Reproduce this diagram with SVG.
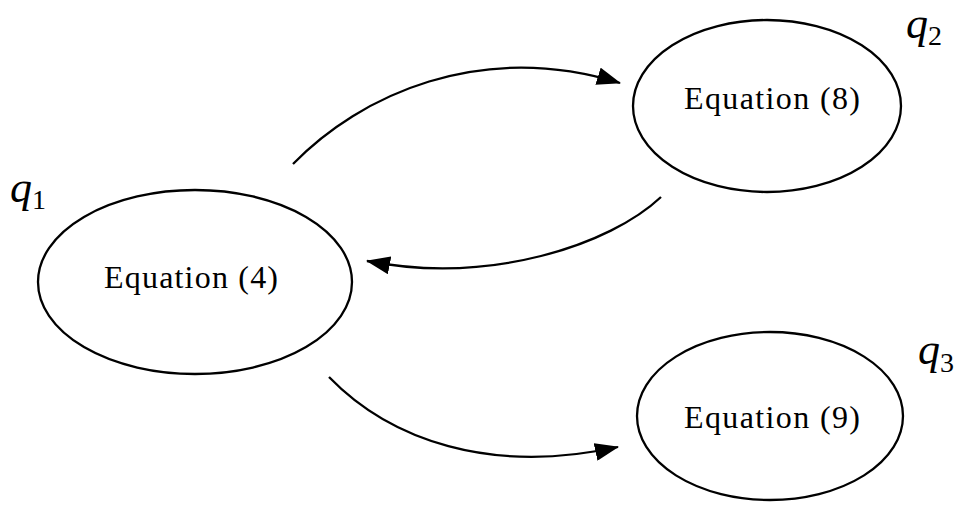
<svg xmlns="http://www.w3.org/2000/svg" width="959" height="506" viewBox="0 0 959 506">
<style>
.node{fill:none;stroke:#000;stroke-width:2.3}
.lbl{font-family:"Liberation Serif",serif;font-size:32px;text-anchor:middle;fill:#000}
.q{font-family:"Liberation Serif",serif;font-style:italic;font-size:44px;fill:#000}
.sub{font-style:normal;font-size:28px}
.edge{fill:none;stroke:#000;stroke-width:2.3;marker-end:url(#ah)}
</style>
<defs>
<marker id="ah" viewBox="0 0 24 18" refX="23" refY="9" markerWidth="24" markerHeight="18" markerUnits="userSpaceOnUse" orient="auto">
<path d="M0,0 L24,9 L0,18 Z" fill="#000"/>
</marker>
</defs>
<rect width="959" height="506" fill="#fff"/>
<g id="q1">
<ellipse class="node" cx="195" cy="282" rx="157" ry="92"/>
<text class="lbl" x="191" y="288" textLength="174" lengthAdjust="spacing">Equation (4)</text>
<text class="q" x="10" y="202">q<tspan class="sub" dy="7">1</tspan></text>
</g>
<g id="q2">
<ellipse class="node" cx="767" cy="106" rx="134" ry="86"/>
<text class="lbl" x="772" y="109" textLength="176" lengthAdjust="spacing">Equation (8)</text>
<text class="q" x="906" y="38">q<tspan class="sub" dy="7">2</tspan></text>
</g>
<g id="q3">
<ellipse class="node" cx="770" cy="416" rx="133" ry="84"/>
<text class="lbl" x="772" y="428" textLength="176" lengthAdjust="spacing">Equation (9)</text>
<text class="q" x="918" y="364">q<tspan class="sub" dy="8">3</tspan></text>
</g>
<g id="connectors">
<path class="edge" d="M293,164 C360,95 480,40 620,83"/>
<path class="edge" d="M661,197 C610,245 490,285 367,261"/>
<path class="edge" d="M329,377 C390,440 490,475 618,447"/>
</g>
</svg>
